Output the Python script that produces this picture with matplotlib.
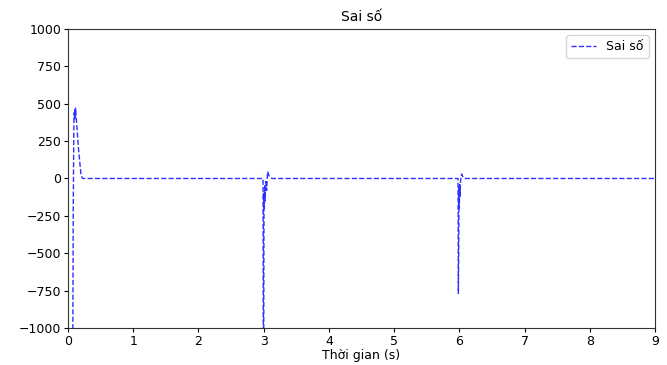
import matplotlib
matplotlib.use("Agg")
import matplotlib.pyplot as plt

# error signal (time in s, error)
t = [0.0, 0.07, 0.08, 0.09, 0.095, 0.10, 0.105, 0.11, 0.115, 0.12, 0.16, 0.2, 0.225,
     2.99, 2.995, 3.0, 3.005, 3.01, 3.015, 3.02, 3.03, 3.045, 3.06, 3.09, 3.13,
     5.98, 5.985, 5.99, 5.995, 6.0, 6.005, 6.01, 6.02, 6.035, 6.06, 6.1, 9.0]
err = [-3000, -1500, -200, 380, 440, 400, 460, 410, 470, 440, 200, 20, 0,
       0, -1500, -1200, -100, -200, -50, -150, -20, -80, 46, 10, 0,
       0, -768, -500, -60, -200, -40, -120, -10, 30, 5, 0, 0]

plt.rcParams['font.size'] = 9
fig = plt.figure(figsize=(6.67, 3.65), dpi=100)
ax = fig.add_axes([0.102, 0.101, 0.880, 0.820])
ax.plot(t, err, '--', color='#3030ff', linewidth=1, label='Sai số')
ax.set_xlim(0, 9)
ax.set_ylim(-1000, 1000)
ax.set_xticks(range(0, 10))
ax.set_yticks(range(-1000, 1001, 250))
ax.tick_params(length=3, pad=2)
for s in ax.spines.values():
    s.set_color('#333333')
ax.set_xlabel('Thời gian (s)', labelpad=1)
ax.set_title('Sai số', fontsize=10, pad=6)
ax.legend(loc='upper right')
fig.savefig('out.png', dpi=100)
